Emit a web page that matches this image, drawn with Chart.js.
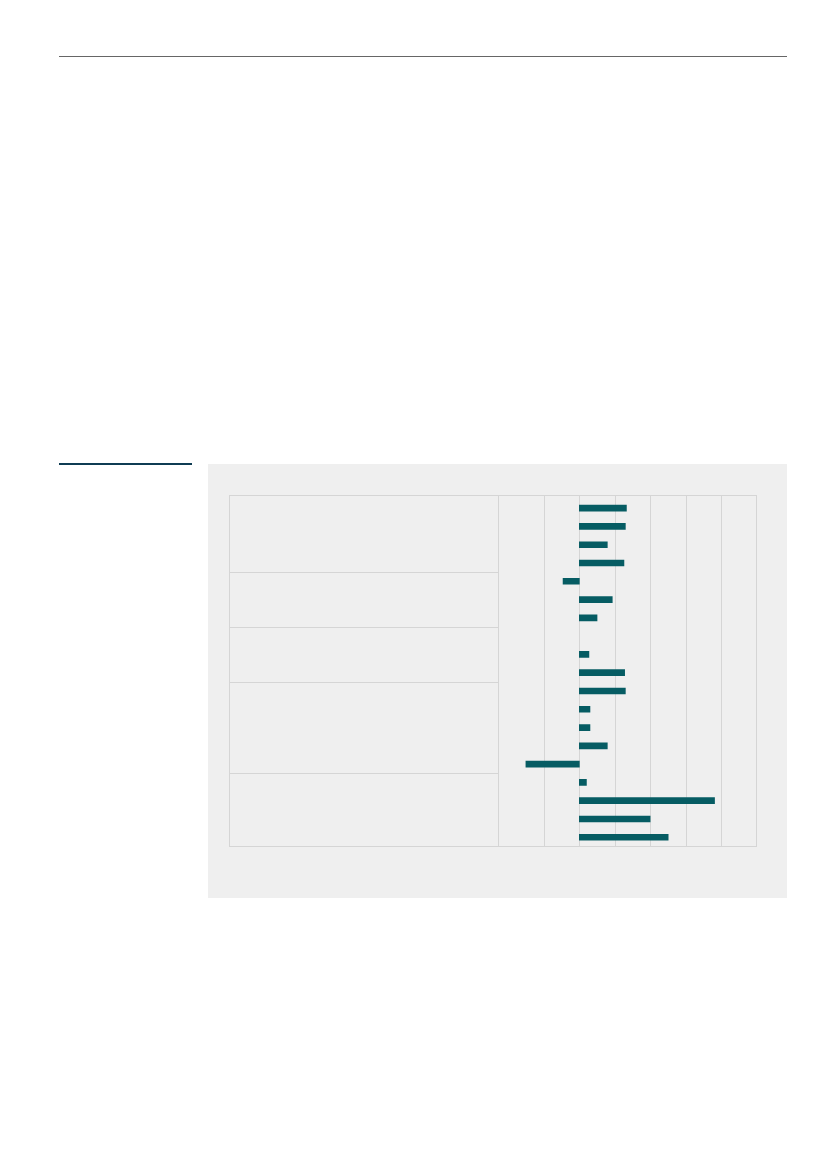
<!DOCTYPE html>
<html>
<head>
<meta charset="utf-8">
<script src="https://cdn.jsdelivr.net/npm/chart.js@4/dist/chart.umd.min.js"></script>
<style>
  body { margin: 0; background: #fff; font-family: "Noto Sans", sans-serif; }
  .rule-top { position: absolute; left: 59px; top: 56px; width: 728px; height: 1px; background: #666; }
  .rule-blue { position: absolute; left: 59px; top: 463px; width: 133px; height: 2px; background: #0f3c53; }
  .panel { position: absolute; left: 208px; top: 464px; width: 579px; height: 434px; background: #efefef; }
  #wrap { position: absolute; left: 228px; top: 494px; width: 530px; height: 354px; }
</style>
</head>
<body>
<div class="rule-top"></div>
<div class="rule-blue"></div>
<div class="panel"></div>
<div id="wrap"><canvas id="chart"></canvas></div>
<script>
'use strict';

// rows of the table (labels are blank in the source)
const rows = ['', '', '', '', '', '', '', '', '', '', '', '', '', '', '', '', '', '', ''];
const values = [1.33, 1.30, 0.79, 1.26, -0.46, 0.93, 0.50, null, 0.27, 1.28, 1.30, 0.30, 0.30, 0.79, -1.51, 0.20, 3.82, 2.00, 2.51];
// index of last row in each group, a separator is drawn below it
const groupEnds = [3, 6, 9, 14];
const xTicks = [-1, 0, 1, 2, 3, 4, 5];
const xMin = -2.29;
const xMax = 5;

const GRID = '#d5d5d5';
const BAR = '#065c63';

const tablePlugin = {
  id: 'table',
  beforeDatasetsDraw(chart) {
    const ctx = chart.ctx;
    const area = chart.chartArea;
    const x = chart.scales.x;
    const y = chart.scales.y;
    const boxTop = 1.5;
    const boxLeft = 1;
    ctx.save();
    ctx.strokeStyle = GRID;
    ctx.lineWidth = 1;
    // value grid lines
    xTicks.forEach(v => {
      const px = Math.round(x.getPixelForValue(v)) + 0.5;
      ctx.beginPath();
      ctx.moveTo(px, boxTop);
      ctx.lineTo(px, area.bottom);
      ctx.stroke();
    });
    // outer box
    const left = Math.round(boxLeft) + 0.5;
    const right = Math.round(x.getPixelForValue(xMax)) + 0.5;
    const bottom = Math.round(area.bottom) + 0.5;
    ctx.strokeRect(left, boxTop, right - left, bottom - boxTop);
    // divider between label column and chart
    const colX = Math.round(x.getPixelForValue(xMin)) + 0.5;
    ctx.beginPath();
    ctx.moveTo(colX, boxTop);
    ctx.lineTo(colX, bottom);
    ctx.stroke();
    // group separators in the label column
    groupEnds.forEach(i => {
      const py = Math.round((y.getPixelForValue(i) + y.getPixelForValue(i + 1)) / 2) + 0.5;
      ctx.beginPath();
      ctx.moveTo(left, py);
      ctx.lineTo(colX, py);
      ctx.stroke();
    });
    ctx.restore();
  }
};

new Chart(document.getElementById('chart'), {
  type: 'bar',
  data: {
    labels: rows,
    datasets: [{
      data: values,
      backgroundColor: BAR,
      borderWidth: 0,
      barThickness: 6
    }]
  },
  options: {
    indexAxis: 'y',
    responsive: true,
    maintainAspectRatio: false,
    animation: false,
    layout: { padding: { left: 270.3, right: 1.7, top: 5, bottom: 1.6 } },
    plugins: { legend: { display: false }, tooltip: { enabled: false } },
    scales: {
      x: {
        min: xMin,
        max: xMax,
        afterBuildTicks: s => { s.ticks = xTicks.map(v => ({ value: v })); },
        afterFit: s => { s.height = 0; },
        ticks: { display: false },
        grid: { display: false },
        border: { display: false }
      },
      y: {
        afterFit: s => { s.width = 0; },
        ticks: { display: false },
        grid: { display: false },
        border: { display: false }
      }
    }
  },
  plugins: [tablePlugin]
});
</script>
</body>
</html>
